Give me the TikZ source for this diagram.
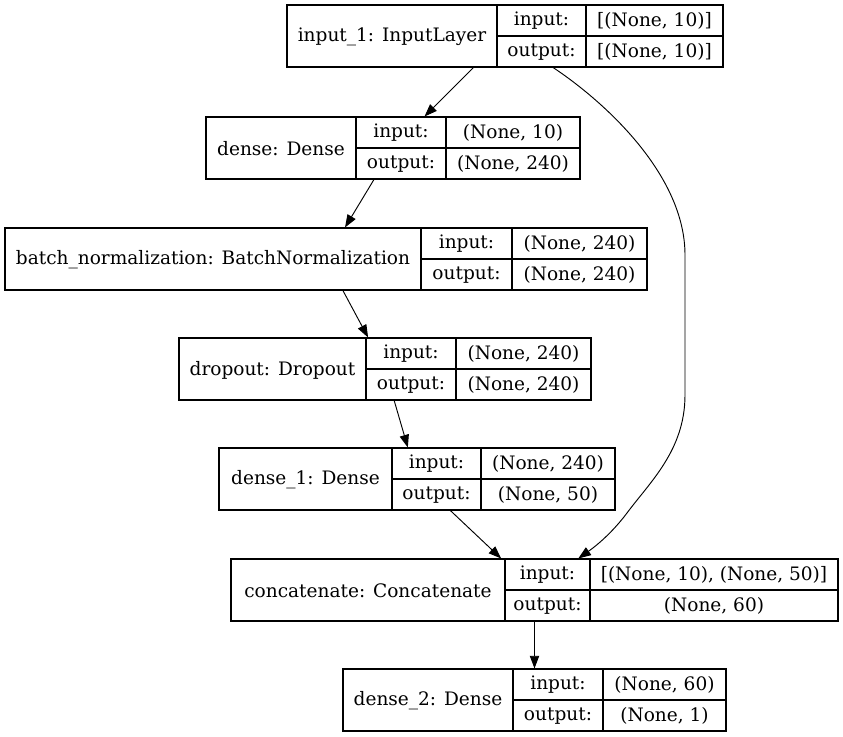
\documentclass[tikz,border=0pt]{standalone}
\usepackage{fontspec}
\setmainfont{DejaVu Serif}
\usetikzlibrary{arrows.meta,calc}

\tikzset{
  layer/.style={draw, line width=0.8pt, inner sep=0pt, minimum height=62*0.75pt},
  rule/.style={line width=0.8pt},
  txt/.style={inner sep=0pt, font=\fontsize{13.9}{16}\selectfont},
  arr/.style={-{Triangle[length=9.5pt,width=7pt]}, line width=0.7pt}
}

% name, left, divider 1, divider 2, right, top, label, input shape, output shape
\newcommand{\layerbox}[9]{%
  \node [layer, minimum width={(#5-#2)*0.75pt}] (#1) at ({(#2+#5)/2},{#6+31}) {};
  \draw [rule] (#3,#6) -- (#3,#6+62) (#4,#6) -- (#4,#6+62) (#3,#6+31) -- (#5,#6+31);
  \node [txt] (#1-name) at ({(#2+#3)/2},{#6+32}) {#7};
  \node [txt] (#1-inl) at ({(#3+#4)/2},{#6+16}) {input:};
  \node [txt] (#1-outl) at ({(#3+#4)/2},{#6+47}) {output:};
  \node [txt] (#1-in) at ({(#4+#5)/2},{#6+16}) {#8};
  \node [txt] (#1-out) at ({(#4+#5)/2},{#6+47}) {#9};
}

\begin{document}
\begin{tikzpicture}[x=0.75pt, y=-0.75pt]
  \useasboundingbox (0,0) rectangle (843,737);
  \layerbox{inp}{287}{497}{586}{723}{5}{input\_1: InputLayer}{[(None, 10)]}{[(None, 10)]}
  \layerbox{dns}{206}{356}{446}{580}{117}{dense: Dense}{(None, 10)}{(None, 240)}
  \layerbox{bn}{5}{421}{512}{647}{228}{batch\_normalization: BatchNormalization}{(None, 240)}{(None, 240)}
  \layerbox{drop}{179}{366}{456}{591}{338}{dropout: Dropout}{(None, 240)}{(None, 240)}
  \layerbox{dnsa}{219}{392}{481}{615}{448}{dense\_1: Dense}{(None, 240)}{(None, 50)}
  \layerbox{cat}{231}{505}{590}{838}{559}{concatenate: Concatenate}{[(None, 10), (None, 50)]}{(None, 60)}
  \layerbox{dnsb}{343}{513}{603}{726}{669}{dense\_2: Dense}{(None, 60)}{(None, 1)}

  \draw [arr] (inp) -- (dns);
  \draw [arr] (dns) -- (bn);
  \draw [arr] (bn) -- (drop);
  \draw [arr] (drop) -- (dnsa);
  \draw [arr] (dnsa) -- (cat);
  \draw [arr] (cat) -- (dnsb);
  % skip connection round the right side
  \draw [arr] ($(inp.south west)!0.61!(inp.south east)$)
    .. controls (605,102) and (685,175) .. (685,255)
    -- (685,395)
    .. controls (685,450) and (650,482) .. (627,513)
    .. controls (612,533) and (596,546) .. ($(cat.north west)!0.572!(cat.north east)$);
\end{tikzpicture}
\end{document}
